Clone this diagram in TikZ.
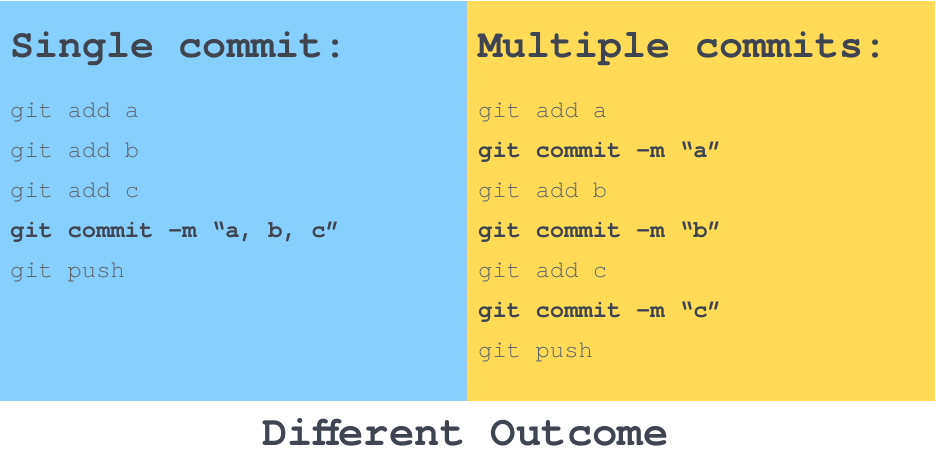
\documentclass[tikz,border=0pt]{standalone}
\usepackage{fontspec}
\setmonofont{TeX Gyre Cursor}
\definecolor{panelblue}{RGB}{135,207,252}
\definecolor{panelyellow}{RGB}{255,219,88}
\definecolor{darktext}{RGB}{62,68,80}
\definecolor{lighttext}{RGB}{95,100,108}
\tikzset{
  heading/.style={anchor=base west,inner sep=0pt,font=\ttfamily\bfseries\fontsize{40.3}{41}\selectfont,text=darktext},
  cmd/.style={anchor=base west,inner sep=0pt,font=\ttfamily\fontsize{24}{24}\selectfont,text=lighttext},
  boldcmd/.style={anchor=base west,inner sep=0pt,font=\ttfamily\bfseries\fontsize{24}{24}\selectfont,text=darktext},
  footer/.style={anchor=base,inner sep=0pt,font=\ttfamily\bfseries\fontsize{42.5}{43}\selectfont,text=darktext}
}
\begin{document}
\begin{tikzpicture}[x=1bp,y=-1bp]
\useasboundingbox (0,0) rectangle (936,458);
\fill[white] (0,0) rectangle (936,458);
\fill[panelblue] (0,1) rectangle (466.5,401);
\fill[panelyellow] (466.5,1) rectangle (935,401);
\draw[black!25,dotted,line width=0.5bp] (466.5,1) -- (466.5,401);
% left panel
\node[heading] (h1) at (10,58) {Single commit:};
\node[cmd] (l1) at (10,118) {git add a};
\node[cmd] (l2) at (10,158) {git add b};
\node[cmd] (l3) at (10,198) {git add c};
\node[boldcmd] (l4) at (10,238) {git commit -m “a, b, c”};
\node[cmd] (l5) at (10,278) {git push};
% right panel
\node[heading] (h2) at (478,58) {Multiple commits:};
\node[cmd] (r1) at (478,118) {git add a};
\node[boldcmd] (r2) at (478,158) {git commit -m “a”};
\node[cmd] (r3) at (478,198) {git add b};
\node[boldcmd] (r4) at (478,238) {git commit -m “b”};
\node[cmd] (r5) at (478,278) {git add c};
\node[boldcmd] (r6) at (478,318) {git commit -m “c”};
\node[cmd] (r7) at (478,358) {git push};
% footer
\node[footer] (f) at (465.5,445.5) {Different Outcome};
\end{tikzpicture}
\end{document}
